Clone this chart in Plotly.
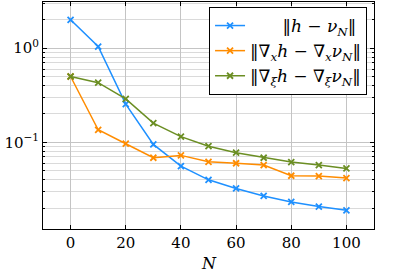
import plotly.graph_objects as go

N = [0, 10, 20, 30, 40, 50, 60, 70, 80, 90, 100]
err_h = [2.0, 1.04, 0.255, 0.095, 0.056, 0.040, 0.0324, 0.027, 0.0233, 0.0208, 0.019]
err_gx = [0.5, 0.136, 0.0967, 0.0686, 0.0727, 0.0622, 0.060, 0.0574, 0.0442, 0.0438, 0.0417]
err_gxi = [0.5, 0.43, 0.289, 0.160, 0.115, 0.091, 0.0776, 0.0686, 0.0617, 0.0574, 0.0529]

names = [
    "      ‖<i>h</i> − <i>ν</i><sub><i>N</i></sub>‖",
    "‖∇<sub><i>x</i></sub><i>h</i> − ∇<sub><i>x</i></sub><i>ν</i><sub><i>N</i></sub>‖",
    "‖∇<sub><i>ξ</i></sub><i>h</i> − ∇<sub><i>ξ</i></sub><i>ν</i><sub><i>N</i></sub>‖",
]
colors = ["#1E90FF", "#FF8C00", "#6B8E23"]
series = [err_h, err_gx, err_gxi]

FONT = "DejaVu Serif"

fig = go.Figure()
for ys, nm, c in zip(series, names, colors):
    fig.add_trace(go.Scatter(
        x=N, y=ys, name=nm, mode="lines+markers",
        line=dict(color=c, width=1.5),
        marker=dict(symbol="x-thin", size=6, line=dict(color=c, width=1.8), color=c),
    ))

fig.update_layout(
    width=415, height=273,
    margin=dict(l=43, r=41, t=2, b=44),
    paper_bgcolor="white", plot_bgcolor="white",
    font=dict(family=FONT, size=15, color="black"),
    showlegend=True,
    legend=dict(
        x=0.979, y=0.978, xanchor="right", yanchor="top",
        bgcolor="white", bordercolor="black", borderwidth=1,
        font=dict(family=FONT, size=17), tracegroupgap=0,
        itemwidth=30,
    ),
    annotations=[dict(
        text="<i>N</i>", xref="paper", yref="paper", x=0.5, y=-0.154,
        xanchor="center", yanchor="middle", showarrow=False,
        font=dict(family=FONT, size=16),
    )],
)

fig.update_xaxes(
    range=[-10, 110],
    tickvals=[0, 20, 40, 60, 80, 100],
    ticks="inside", ticklen=4, tickcolor="black",
    showline=True, linecolor="black", linewidth=1, mirror="ticks",
    showgrid=True, gridcolor="#c4c4c4", gridwidth=1,
    zeroline=False, automargin=False,
    tickfont=dict(family=FONT, size=15),
)

fig.update_yaxes(
    type="log",
    range=[-1.92, 0.49],
    tickvals=[0.1, 1],
    ticktext=["10<sup>−1</sup>", "10<sup>0</sup>"],
    ticks="inside", ticklen=4, tickcolor="black",
    showline=True, linecolor="black", linewidth=1, mirror="ticks",
    showgrid=True, gridcolor="#c4c4c4", gridwidth=1,
    zeroline=False, automargin=False,
    tickfont=dict(family=FONT, size=15),
    minor=dict(
        tickvals=[0.02, 0.03, 0.04, 0.05, 0.06, 0.07, 0.08, 0.09,
                  0.2, 0.3, 0.4, 0.5, 0.6, 0.7, 0.8, 0.9, 2, 3],
        ticks="inside", ticklen=2, tickcolor="black",
        showgrid=True, gridcolor="#dadada", gridwidth=1,
    ),
)

fig.write_html("out.html", config={"displayModeBar": False},
               post_script="document.body.style.margin='0';")
